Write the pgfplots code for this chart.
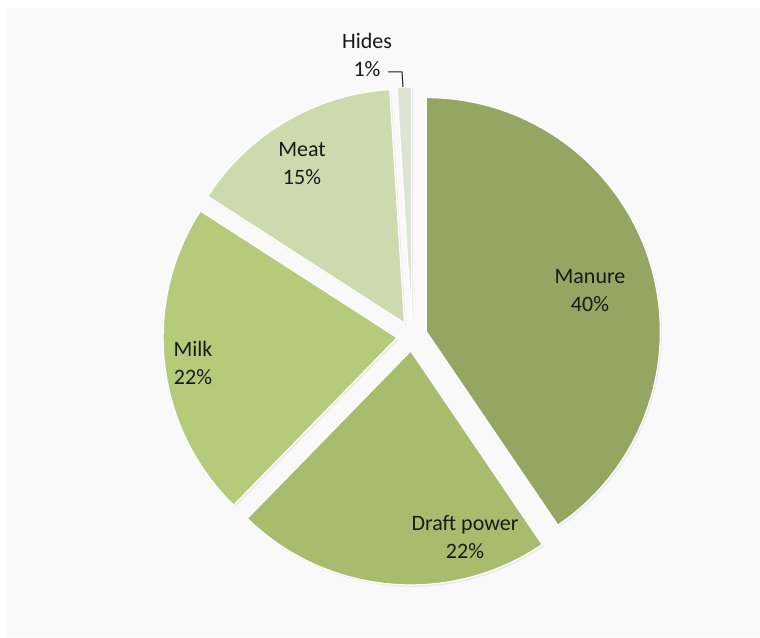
\documentclass[border=0pt]{standalone}
\usepackage{pgfplots}
\pgfplotsset{compat=1.18}
\usepackage{fontspec}
\setmainfont{Carlito}

\definecolor{manure}{RGB}{148,166,98}
\definecolor{draft}{RGB}{168,188,110}
\definecolor{milk}{RGB}{181,203,122}
\definecolor{meat}{RGB}{205,218,174}
\definecolor{hides}{RGB}{222,228,212}
\definecolor{bgc}{RGB}{249,249,250}
\definecolor{txt}{RGB}{25,25,25}

% pie geometry in pixel units: centre, radius, explode distance
\def\pcx{412}
\def\pcy{301}
\def\prad{117pt}  % 234 px
\def\pexp{15}

% \slice{start angle}{end angle}{colour}
\newcommand{\slice}[3]{%
  \pgfplotsextra{%
  \pgfmathsetmacro\smid{(#1+#2)/2}%
  \pgfmathsetmacro\sx{\pcx+\pexp*cos(\smid)}%
  \pgfmathsetmacro\sy{\pcy+\pexp*sin(\smid)}%
  \fill[black!12, opacity=0.6] (axis cs:\sx+1.5,\sy-2) -- ++(#1:\prad) arc[start angle=#1, end angle=#2, radius=\prad] -- cycle;
  \filldraw[fill=#3, draw=white, line width=0.6pt] (axis cs:\sx,\sy) -- ++(#1:\prad) arc[start angle=#1, end angle=#2, radius=\prad] -- cycle;
  }%
}

\begin{document}
\begin{tikzpicture}
\begin{axis}[
    hide axis,
    scale only axis,
    x=0.5pt, y=0.5pt,
    xmin=0, xmax=760,
    ymin=0, ymax=637,
    clip=false,
]
\fill[white] (axis cs:0,0) rectangle (axis cs:760,637);
\fill[bgc] (axis cs:6,0) rectangle (axis cs:760,629);

% shares (%): Manure 40.5, Draft power 21.8, Milk 21.8, Meat 14.9, Hides 1.0
% angles run clockwise from 90 deg, 3.6 deg per percent
\slice{90}{-55.8}{manure}
\slice{-55.8}{-134.3}{draft}
\slice{-134.3}{-212.8}{milk}
\slice{-212.8}{-266.4}{meat}
\slice{-266.4}{-270}{hides}

\begin{scope}[font=\fontsize{11}{14}\selectfont, text=txt, align=center]
\node at (axis cs:590,346) {Manure\\40\%};
\node at (axis cs:465,100) {Draft power\\22\%};
\node at (axis cs:193,274) {Milk\\22\%};
\node at (axis cs:302,473) {Meat\\15\%};
\node at (axis cs:367,582) {Hides\\1\%};
\end{scope}
\draw[txt, line width=0.5pt] (axis cs:388,565) -- (axis cs:402,565) -- (axis cs:403,550);

\end{axis}
\end{tikzpicture}
\end{document}
